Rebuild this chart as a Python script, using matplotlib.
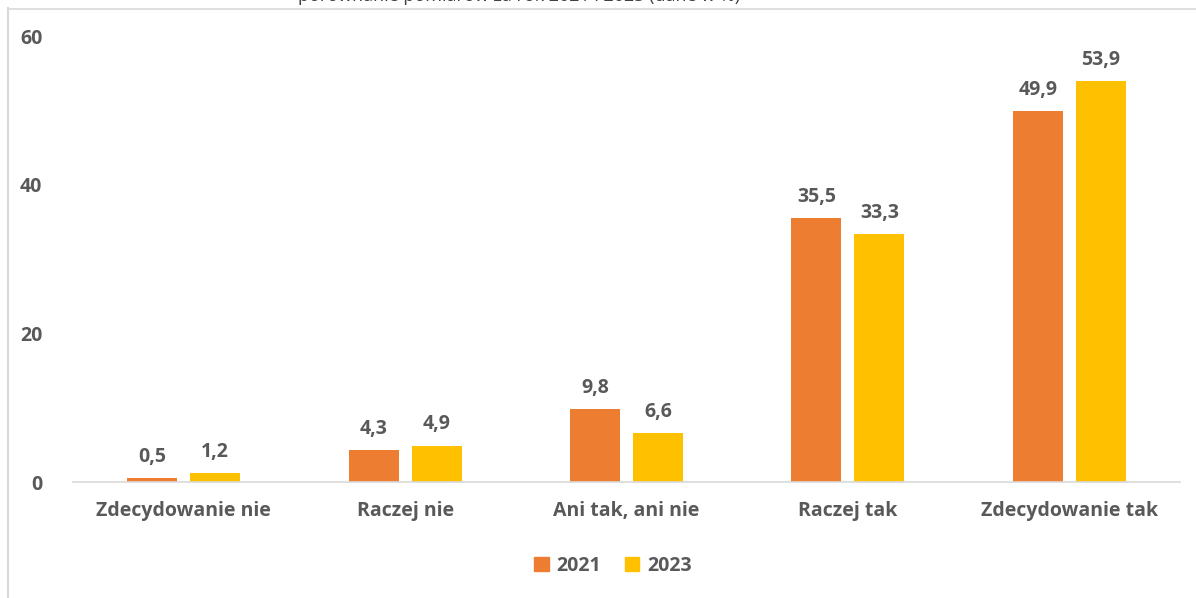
import matplotlib.pyplot as plt
import numpy as np
from matplotlib.patches import Patch
from matplotlib.lines import Line2D

# Odpowiedzi i wyniki pomiarów (dane w %)
kategorie = ["Zdecydowanie nie", "Raczej nie", "Ani tak, ani nie", "Raczej tak", "Zdecydowanie tak"]
wyniki_2021 = [0.5, 4.3, 9.8, 35.5, 49.9]
wyniki_2023 = [1.2, 4.9, 6.6, 33.3, 53.9]
lata = ["2021", "2023"]
y_ticks = [0, 20, 40, 60]

kolor_2021 = "#ED7D31"
kolor_2023 = "#FFC000"
kolor_tekstu = "#595959"

plt.rcParams["font.family"] = ["Open Sans", "DejaVu Sans"]

W, H = 1196, 598
fig = plt.figure(figsize=(W / 100, H / 100), dpi=100)
ax = fig.add_axes([73 / W, 1 - 482 / H, (1180 - 73) / W, (482 - 36) / H])

x = np.arange(len(kategorie))
szer = 0.226
przes = 0.142
s1 = ax.bar(x - przes, wyniki_2021, szer, color=kolor_2021)
s2 = ax.bar(x + przes, wyniki_2023, szer, color=kolor_2023)

for seria in (s1, s2):
    for b in seria:
        v = b.get_height()
        ax.annotate(f"{v:.1f}".replace(".", ","),
                    (b.get_x() + b.get_width() / 2, v),
                    xytext=(0, 8), textcoords="offset points",
                    ha="center", va="bottom", fontsize=14,
                    fontweight="bold", color=kolor_tekstu)

ax.set_xlim(-0.5, len(kategorie) - 0.5)
ax.set_ylim(0, 60)
ax.set_yticks(y_ticks)
ax.set_yticklabels([str(t) for t in y_ticks])
ax.set_xticks(x)
ax.set_xticklabels(kategorie)
ax.tick_params(axis="both", length=0, labelsize=14, labelcolor=kolor_tekstu)
ax.tick_params(axis="y", pad=22)
ax.tick_params(axis="x", pad=14)
for lab in ax.get_xticklabels() + ax.get_yticklabels():
    lab.set_fontweight("bold")

for s in ["top", "right", "left"]:
    ax.spines[s].set_visible(False)
ax.spines["bottom"].set_color("#D9D9D9")
ax.spines["bottom"].set_linewidth(1.2)

# legenda pod wykresem
uchwyty = [Patch(color=kolor_2021), Patch(color=kolor_2023)]
fig.legend(uchwyty, lata, loc="center", bbox_to_anchor=(613 / W, 1 - 566 / H),
           ncol=2, frameon=False, handlelength=0.75, handleheight=0.75,
           handletextpad=0.4, columnspacing=1.2,
           prop={"size": 14, "weight": "bold"}, labelcolor=kolor_tekstu)

# ramka i ucięty tytuł u góry
fig.add_artist(Line2D([8 / W, 8 / W], [0, 1 - 8 / H], color="#D9D9D9", lw=1.5))
fig.add_artist(Line2D([8 / W, 1], [1 - 9 / H, 1 - 9 / H], color="#D9D9D9", lw=1.2))
fig.text(519 / W, 1 - 1 / H, "porównanie pomiarów za rok 2021 i 2023 (dane w %)",
         ha="center", va="baseline", fontsize=13, color="#404040")

fig.savefig("out.png", dpi=100)
